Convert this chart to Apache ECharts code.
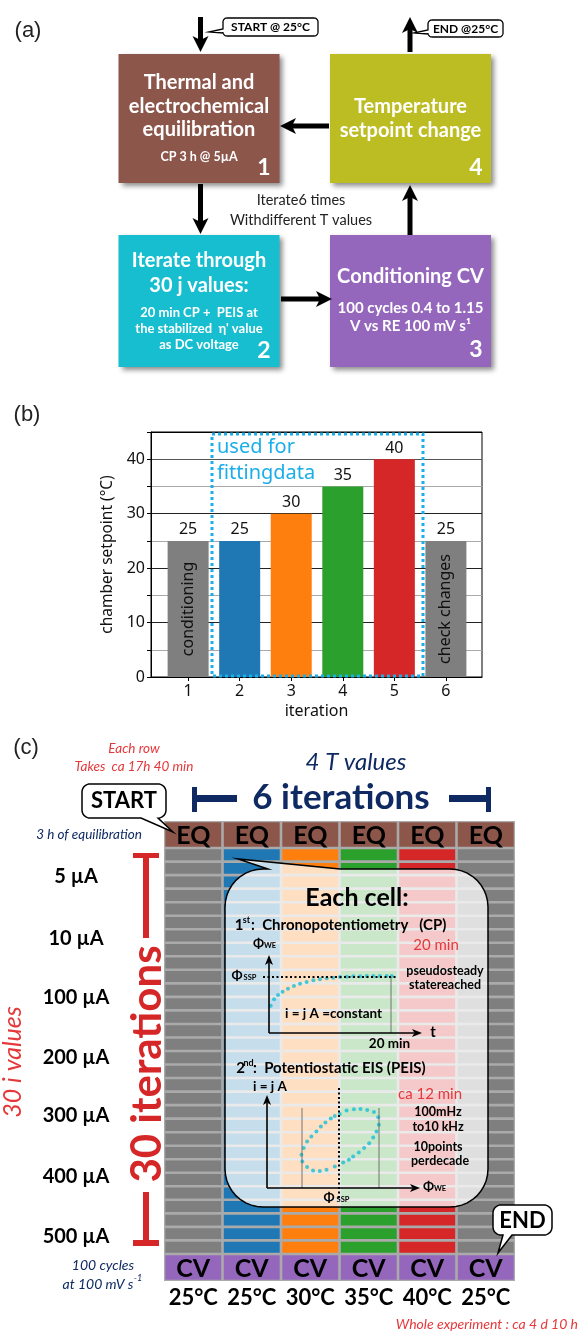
<!DOCTYPE html>
<html><head><meta charset="utf-8">
<script src="https://cdn.jsdelivr.net/npm/echarts@6.0.0/dist/echarts.min.js"></script>
<style>html,body{margin:0;padding:0;background:#fff}#c{width:579px;height:1331px}</style>
</head><body><div id="c"></div>
<script>
// ---------- DATA ----------
// panel (b)
const iterations = [1, 2, 3, 4, 5, 6];
const setpoints = [25, 25, 30, 35, 40, 25];
const barColors = ['#7f7f7f','#1f77b4','#ff7f0e','#2ca02c','#d62728','#7f7f7f'];
const barNotes = ['conditioning','','','','','check changes'];
const yTickLabels = [0, 10, 20, 30, 40];
// panel (c)
const columnTemps = ['25°C','25°C','30°C','35°C','40°C','25°C'];
const columnColors = ['#7f7f7f','#1f77b4','#ff7f0e','#2ca02c','#d62728','#7f7f7f'];
const jRowCount = 30;
const rowLabels = ['5 µA','10 µA','100 µA','200 µA','300 µA','400 µA','500 µA'];
const rowLabelPos = [4.14, 8.72, 13.08, 17.52, 21.8, 26.31, 30.75];
// inset sketches (schematic, 0-100 units)
const cpCurve = [[1.1,35],[3.3,43.2],[5.9,48.7],[8.9,53],[12.4,56.8],[16.3,60.3],[20.3,63.2],[24.6,65.4],[29,67.5],[33.3,68.8],[37.7,70.1],[42,70.9],[46.4,71.8],[50.8,72.2],[55.1,72.6],[59.5,72.6],[63.9,73.1],[68.2,73.1],[72.5,73.1],[76.9,73.1],[80.2,73.1]];
const eisLoop = [[47.6,79.6],[52,83.2],[56.8,84.6],[61.1,85],[65.5,83.9],[69.9,81.8],[72.7,76.1],[73.1,67.9],[71.6,60.7],[69.4,54.3],[66.8,48.2],[63.5,42.9],[60,38.2],[56.3,33.9],[53.5,30.4],[49.8,27.5],[44.3,23.2],[38.9,19.6],[34.5,18.2],[30.1,18.9],[26.2,22.5],[23.1,28.6],[22.5,35.7],[24,42.9],[26.2,50],[29,55.4],[32.3,60.7],[35.2,66.1],[38.2,70.4],[41.7,74.6],[44.3,77.5]];

// ---------- helpers ----------
const F = 'Lato';
const NAVY = '#0f2a62', RED = '#d62728', CRED = '#e5383b';
function T(x, y, text, font, fill, opt) {
  opt = opt || {};
  return { type: 'text', x: x, y: y, rotation: opt.rot || 0, z: opt.z || 30,
    style: { text: text, font: font, fill: fill || '#000', textAlign: opt.align || 'center', textVerticalAlign: 'middle',
      shadowColor: opt.shadow ? 'rgba(0,0,0,0.6)' : undefined, shadowBlur: opt.shadow ? 2 : 0,
      shadowOffsetX: opt.shadow ? 1.5 : 0, shadowOffsetY: opt.shadow ? 1.5 : 0 } };
}
function arrow(x1, y1, x2, y2, w, hl, hw, color, z) {
  const dx = x2 - x1, dy = y2 - y1, L = Math.hypot(dx, dy), ux = dx / L, uy = dy / L;
  const bx = x2 - ux * hl, by = y2 - uy * hl;
  const nx = bx + ux * hl * 0.25, ny = by + uy * hl * 0.25;
  return [
    { type: 'line', z: z, shape: { x1: x1, y1: y1, x2: nx, y2: ny }, style: { stroke: color, lineWidth: w } },
    { type: 'polygon', z: z, shape: { points: [[x2, y2], [bx - uy * hw, by + ux * hw], [nx, ny], [bx + uy * hw, by - ux * hw]] }, style: { fill: color } }
  ];
}
function callout(x0, y0, x1, y1, r, tails) {
  const pts = [];
  const arc = (cx, cy, a0, a1) => { for (let i = 0; i <= 10; i++) { const a = a0 + (a1 - a0) * i / 10; pts.push([cx + r * Math.cos(a), cy + r * Math.sin(a)]); } };
  arc(x0 + r, y0 + r, Math.PI, 1.5 * Math.PI);
  (tails.top || []).forEach(p => pts.push(p));
  arc(x1 - r, y0 + r, 1.5 * Math.PI, 2 * Math.PI);
  (tails.right || []).forEach(p => pts.push(p));
  arc(x1 - r, y1 - r, 0, 0.5 * Math.PI);
  (tails.bottom || []).forEach(p => pts.push(p));
  arc(x0 + r, y1 - r, 0.5 * Math.PI, Math.PI);
  (tails.left || []).forEach(p => pts.push(p));
  return pts;
}
function box(x, y, w, h, color) {
  return { type: 'rect', z: 10, shape: { x: x, y: y, width: w, height: h },
    style: { fill: color, shadowColor: 'rgba(0,0,0,0.45)', shadowBlur: 5, shadowOffsetX: 3, shadowOffsetY: 3 } };
}
function rectEl(x, y, w, h, color, z) { return { type: 'rect', z: z || 30, shape: { x: x, y: y, width: w, height: h }, style: { fill: color } }; }
function lineEl(x1, y1, x2, y2, color, w, dash, z) {
  return { type: 'line', z: z || 25, shape: { x1: x1, y1: y1, x2: x2, y2: y2 }, style: { stroke: color, lineWidth: w, lineDash: dash || null } };
}

// ---------- cells for panel (c) ----------
const cellData = [], cellText = [];
columnColors.forEach((c, ci) => {
  cellData.push({ value: [ci, 0, 2], itemStyle: { color: '#8c564b' } }); cellText.push('EQ');
  for (let r = 0; r < jRowCount; r++) { cellData.push({ value: [ci, 2 + r, 3 + r], itemStyle: { color: c } }); cellText.push(''); }
  cellData.push({ value: [ci, 2 + jRowCount, 4 + jRowCount], itemStyle: { color: '#9467bd' } }); cellText.push('CV');
});

// ---------- graphics ----------
const G = [];
// panel (a)
G.push(T(28, 31, '(a)', '22px "Liberation Sans"', '#222', { }));
G.push(box(118.5, 54, 161, 129, '#8c564b'));
G.push(box(330, 54, 161, 129, '#bcbd22'));
G.push(box(118.5, 235, 161, 132, '#17becf'));
G.push(box(330, 235, 161, 132, '#9467bd'));
const BF = 'bold 20px ' + F;
G.push(T(199, 83, 'Thermal and', BF, '#fff'));
G.push(T(199, 107, 'electrochemical', BF, '#fff'));
G.push(T(199, 130, 'equilibration', BF, '#fff'));
G.push(T(199, 157, 'CP 3 h @ 5µA', 'bold 12.5px ' + F, '#fff'));
G.push(T(264, 168, '1', 'bold 23px ' + F, '#fff', { shadow: true }));
G.push(T(410.5, 107, 'Temperature', BF, '#fff'));
G.push(T(410.5, 131, 'setpoint change', BF, '#fff'));
G.push(T(476, 168, '4', 'bold 23px ' + F, '#fff', { shadow: true }));
G.push(T(199, 261, 'Iterate through', BF, '#fff'));
G.push(T(199, 286, '30 j values:', BF, '#fff'));
G.push(T(199, 313, '20 min CP +  PEIS at', 'bold 13px ' + F, '#fff'));
G.push(T(199, 329, 'the stabilized  η\' value', 'bold 13px ' + F, '#fff'));
G.push(T(199, 345, 'as DC voltage', 'bold 13px ' + F, '#fff'));
G.push(T(264, 351, '2', 'bold 23px ' + F, '#fff', { shadow: true }));
G.push(T(410.5, 277, 'Conditioning CV', BF, '#fff'));
G.push(T(410.5, 308, '100 cycles 0.4 to 1.15', 'bold 15px ' + F, '#fff'));
G.push(T(410.5, 326, 'V vs RE 100 mV s¹', 'bold 15px ' + F, '#fff'));
G.push(T(476, 350, '3', 'bold 23px ' + F, '#fff', { shadow: true }));
G.push(T(301, 200, 'Iterate6 times', '14.5px ' + F, '#222'));
G.push(T(301, 220, 'Withdifferent T values', '14.5px ' + F, '#222'));
[[200.5, 17, 200.5, 52], [410, 52, 410, 17], [329, 126, 280, 126], [200.5, 184, 200.5, 234], [281, 299, 332, 299], [410, 235, 410, 185]]
  .forEach(a => arrow(a[0], a[1], a[2], a[3], 5, 16, 8, '#000', 12).forEach(e => G.push(e)));
G.push({ type: 'polygon', z: 20, shape: { points: callout(223, 18, 318, 36, 4, { left: [[223, 33], [209, 32], [223, 29]] }) }, style: { fill: '#fff', stroke: '#000', lineWidth: 1.3 } });
G.push(T(270.5, 27.5, 'START @ 25°C', 'bold 12px ' + F, '#000'));
G.push({ type: 'polygon', z: 20, shape: { points: callout(428, 20, 503, 37, 4, { left: [[428, 34], [414, 33], [428, 30]] }) }, style: { fill: '#fff', stroke: '#000', lineWidth: 1.3 } });
G.push(T(465.5, 29, 'END @25°C', 'bold 12px ' + F, '#000'));

// panel (b)
G.push(T(27, 415, '(b)', '22px "Liberation Sans"', '#222'));
G.push({ type: 'rect', z: 20, shape: { x: 212, y: 434, width: 211, height: 242 }, style: { fill: 'none', stroke: '#1aaeea', lineWidth: 3, lineDash: [3, 3] } });
G.push(T(217, 447, 'used for', '20px "Noto Sans"', '#1aaeea', { align: 'left' }));
G.push(T(217, 473, 'fittingdata', '20px "Noto Sans"', '#1aaeea', { align: 'left' }));

// panel (c)
G.push(T(26, 748, '(c)', '22px "Liberation Sans"', '#222'));
G.push(T(134, 749, 'Each row', 'italic 13.5px ' + F, CRED));
G.push(T(134, 767, 'Takes  ca 17h 40 min', 'italic 13.5px ' + F, CRED));
G.push(T(356, 762, '4 T values', 'italic 24px ' + F, NAVY));
G.push(T(341, 798, '6 iterations', 'bold 35px ' + F, NAVY));
G.push(rectEl(192, 787, 5, 25, NAVY)); G.push(rectEl(197, 795, 40, 7, NAVY));
G.push(rectEl(449, 795, 37, 7, NAVY)); G.push(rectEl(486, 787, 5, 25, NAVY));
G.push({ type: 'polygon', z: 20, shape: { points: callout(82, 784, 166, 818, 8, { bottom: [[158, 818], [173, 832], [141, 818]] }) }, style: { fill: '#fff', stroke: '#000', lineWidth: 1.5 } });
G.push(T(124, 801, 'START', 'bold 22px ' + F, '#000'));
G.push(T(89, 835, '3 h of equilibration', 'italic 13.5px ' + F, NAVY));
// red bracket
G.push(rectEl(133, 853, 26, 5, RED)); G.push(rectEl(143, 853, 6, 85, RED));
G.push(rectEl(143, 1192, 6, 52, RED)); G.push(rectEl(133, 1240, 26, 6, RED));
G.push(T(147, 1064, '30 iterations', 'bold 42px ' + F, RED, { rot: Math.PI / 2 }));
G.push(T(13, 1062, '30 i values', 'italic 25px ' + F, CRED, { rot: Math.PI / 2 }));
G.push(T(103, 1265, '100 cycles', 'italic 14px ' + F, NAVY));
G.push(T(98, 1284, 'at 100 mV s', 'italic 14px ' + F, NAVY));
G.push(T(138, 1278, '-1', 'italic 9px ' + F, NAVY));
G.push(T(578, 1324, 'Whole experiment : ca 4 d 10 h', 'italic 14px ' + F, CRED, { align: 'right' }));
G.push({ type: 'polygon', z: 20, shape: { points: callout(493, 1205, 552, 1235, 8, { bottom: [[512, 1235], [498, 1253], [503, 1235]] }) }, style: { fill: '#fff', stroke: '#000', lineWidth: 1.5 } });
G.push(T(522.5, 1220.5, 'END', 'bold 22px ' + F, '#000'));
// big bubble
G.push({ type: 'polygon', z: 5, shape: { points: callout(225, 869, 488, 1207, 38, { top: [[268, 869], [238, 859], [340, 869]] }) }, style: { fill: 'rgba(255,255,255,0.75)', stroke: '#000', lineWidth: 1.5 } });
G.push(T(357, 898, 'Each cell:', 'bold 25px ' + F, '#000'));
G.push(T(239, 925, '1', 'bold 15px ' + F, '#000'));
G.push(T(246.5, 920, 'st', 'bold 9px ' + F, '#000'));
G.push(T(251, 925, ':  Chronopotentiometry   (CP)', 'bold 15px ' + F, '#000', { align: 'left' }));
G.push(T(258.5, 944, 'Φ', 'bold 13px ' + F, '#000'));
G.push(T(270, 946, 'WE', 'bold 7.5px ' + F, '#000'));
G.push(T(436, 945, '20 min', '15px ' + F, CRED));
G.push(T(237, 976, 'Φ', 'bold 13px ' + F, '#000'));
G.push(T(250, 978, 'SSP', 'bold 7.5px ' + F, '#000'));
G.push(lineEl(263, 977, 397, 977, '#000', 2, [2, 2.5]));
G.push(lineEl(391, 977, 391, 1033, '#555', 0.8));
arrow(269, 1033, 269, 955, 1.6, 10, 4, '#000', 25).forEach(e => G.push(e));
arrow(269, 1033, 422, 1033, 1.6, 10, 4, '#000', 25).forEach(e => G.push(e));
G.push(T(433, 1032, 't', 'bold 15px ' + F, '#000'));
G.push(T(445, 971, 'pseudosteady', 'bold 12.5px ' + F, '#000'));
G.push(T(445, 985, 'statereached', 'bold 12.5px ' + F, '#000'));
G.push(T(333.5, 1014, 'i = j A =constant', 'bold 13.5px ' + F, '#000'));
G.push(T(389.5, 1044, '20 min', 'bold 13.5px ' + F, '#000'));
G.push(T(240.5, 1068, '2', 'bold 15px ' + F, '#000'));
G.push(T(248.5, 1063, 'nd', 'bold 9px ' + F, '#000'));
G.push(T(253, 1068, ':  Potentiostatic EIS (PEIS)', 'bold 15px ' + F, '#000', { align: 'left' }));
G.push(T(270, 1087, 'i = j A', 'bold 13.5px ' + F, '#000'));
G.push(T(430, 1094, 'ca 12 min', '15px ' + F, CRED));
G.push(T(438, 1112, '100mHz', 'bold 12.5px ' + F, '#000'));
G.push(T(438, 1127, 'to10 kHz', 'bold 12.5px ' + F, '#000'));
G.push(T(438, 1147, '10points', 'bold 12.5px ' + F, '#000'));
G.push(T(440, 1161, 'perdecade', 'bold 12.5px ' + F, '#000'));
G.push(lineEl(339, 1088, 339, 1200, '#000', 2, [2, 2.5]));
G.push(lineEl(302, 1108, 302, 1188, '#555', 0.8));
G.push(lineEl(379, 1108, 379, 1188, '#555', 0.8));
arrow(267, 1188, 267, 1095, 1.6, 10, 4, '#000', 25).forEach(e => G.push(e));
arrow(267, 1188, 420, 1188, 1.6, 10, 4, '#000', 25).forEach(e => G.push(e));
G.push(T(428.5, 1187, 'Φ', 'bold 13px ' + F, '#000'));
G.push(T(440, 1189, 'WE', 'bold 7.5px ' + F, '#000'));
G.push(T(329, 1198, 'Φ', 'bold 13px ' + F, '#000'));
G.push(T(343, 1200, 'SSP', 'bold 7.5px ' + F, '#000'));

// ---------- chart ----------
const chart = echarts.init(document.getElementById('c'), null, { renderer: 'canvas' });
const yLineColors = ['#000', '#aaa', '#222', '#aaa', '#222', '#aaa', '#222', '#aaa', '#555', '#000'];
const barPoints = iterations.map((it, i) => ({ value: [it, setpoints[i]], itemStyle: { color: barColors[i] } }));
chart.setOption({
  animation: false,
  textStyle: { fontFamily: 'Noto Sans' },
  grid: [
    { left: 151, top: 432, width: 331, height: 245, show: true, borderColor: '#000', borderWidth: 1, backgroundColor: 'transparent', outerBoundsMode: 'none' },
    { left: 164, top: 821, width: 351, height: 460, show: true, borderWidth: 0, backgroundColor: '#aaaaaa', outerBoundsMode: 'none' },
    { left: 269, top: 955, width: 153, height: 78, outerBoundsMode: 'none' },
    { left: 267, top: 1095, width: 153, height: 93, outerBoundsMode: 'none' }
  ],
  xAxis: [
    { gridIndex: 0, type: 'value', min: 0.28, max: 6.7, splitLine: { show: false },
      axisLine: { lineStyle: { color: '#000', width: 1 } },
      axisTick: { show: true, customValues: iterations, length: 4, lineStyle: { color: '#000' } },
      axisLabel: { customValues: iterations, fontSize: 16, color: '#111', margin: 6, fontFamily: 'Noto Sans' },
      name: 'iteration', nameLocation: 'middle', nameGap: 26, nameTextStyle: { fontSize: 16, color: '#111', fontFamily: 'Noto Sans' } },
    { gridIndex: 1, type: 'category', data: columnTemps,
      axisLine: { show: false }, axisTick: { show: false },
      axisLabel: { interval: 0, hideOverlap: false, fontSize: 22, fontWeight: 'bold', color: '#000', margin: 6, fontFamily: F } },
    { gridIndex: 2, type: 'value', min: 0, max: 100, show: false },
    { gridIndex: 3, type: 'value', min: 0, max: 100, show: false }
  ],
  yAxis: [
    { gridIndex: 0, type: 'value', min: 0, max: 45, interval: 5,
      axisLine: { show: true, lineStyle: { color: '#000' } },
      axisTick: { show: true, length: 4, lineStyle: { color: '#000' } },
      axisLabel: { fontSize: 16, color: '#111', margin: 6, fontFamily: 'Noto Sans', formatter: v => (yTickLabels.indexOf(v) >= 0 ? String(v) : '') },
      splitLine: { show: true, lineStyle: { color: yLineColors, width: 1 } },
      name: 'chamber setpoint (°C)', nameLocation: 'middle', nameGap: 30, nameRotate: 90,
      nameTextStyle: { fontSize: 15.5, color: '#111', fontFamily: 'Noto Sans' } },
    { gridIndex: 1, type: 'value', min: 0, max: 2 * 2 + jRowCount, inverse: true, show: false },
    { gridIndex: 2, type: 'value', min: 0, max: 100, show: false },
    { gridIndex: 3, type: 'value', min: 0, max: 100, show: false }
  ],
  series: [
    { type: 'bar', xAxisIndex: 0, yAxisIndex: 0, barWidth: 41, z: 3, data: barPoints,
      label: { show: true, position: 'top', distance: 3, fontSize: 16, color: '#111', fontFamily: 'Noto Sans', formatter: p => String(p.value[1]) } },
    { type: 'bar', xAxisIndex: 0, yAxisIndex: 0, barWidth: 41, barGap: '-100%', silent: true, z: 4,
      data: iterations.map((it, i) => [it, setpoints[i]]), itemStyle: { color: 'rgba(0,0,0,0)' },
      label: { show: true, position: 'inside', rotate: 90, fontSize: 16, color: '#111', fontFamily: 'Noto Sans',
        formatter: p => barNotes[p.dataIndex] } },
    { type: 'custom', xAxisIndex: 1, yAxisIndex: 1, z: 1, data: cellData,
      renderItem: function (params, api) {
        const c = api.value(0), p0 = api.coord([c, api.value(1)]), p1 = api.coord([c, api.value(2)]);
        const w = api.size([1, 0])[0], g = 1.3;
        const kids = [{ type: 'rect', shape: { x: p0[0] - w / 2 + g, y: p0[1] + g, width: w - 2 * g, height: p1[1] - p0[1] - 2 * g }, style: { fill: api.visual('color') } }];
        const t = cellText[params.dataIndex];
        if (t) kids.push({ type: 'text', x: p0[0], y: (p0[1] + p1[1]) / 2 + 1, style: { text: t, font: 'bold 25px ' + F, fill: '#000', textAlign: 'center', textVerticalAlign: 'middle' } });
        return { type: 'group', children: kids };
      } },
    { type: 'custom', xAxisIndex: 1, yAxisIndex: 1, z: 30, data: rowLabelPos.map(v => [0, v]),
      renderItem: function (params, api) {
        const y = api.coord([0, api.value(1)])[1];
        return { type: 'text', x: 76, y: y, style: { text: rowLabels[params.dataIndex], font: 'bold 20px ' + F, fill: '#000', textAlign: 'center', textVerticalAlign: 'middle' } };
      } },
    { type: 'scatter', xAxisIndex: 2, yAxisIndex: 2, z: 20, symbolSize: 4, itemStyle: { color: '#19bfd6' }, data: cpCurve, silent: true },
    { type: 'scatter', xAxisIndex: 3, yAxisIndex: 3, z: 20, symbolSize: 4, itemStyle: { color: '#19bfd6' }, data: eisLoop, silent: true }
  ],
  graphic: { elements: G }
});
</script></body></html>
